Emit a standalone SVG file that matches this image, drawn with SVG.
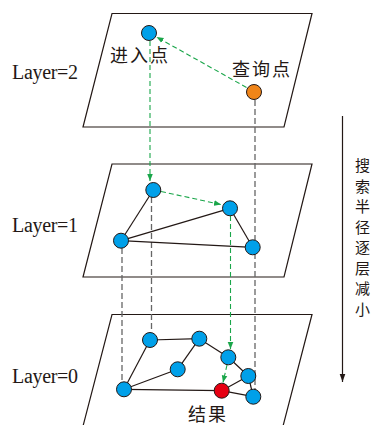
<svg xmlns="http://www.w3.org/2000/svg" width="376" height="425" viewBox="0 0 376 425">
<defs>
<style>
.plane{fill:#fff;stroke:#231815;stroke-width:1.2}
.edge{stroke:#231815;stroke-width:1.2;fill:none}
.gd{stroke:#666;stroke-width:1.3;stroke-dasharray:6 3;fill:none}
.gr{stroke:#1aa64a;stroke-width:1.1;stroke-dasharray:5 3;fill:none}
.n{stroke:#231815;stroke-width:1}
.blue{fill:#00a0e9}
.org{fill:#f08519}
.red{fill:#e60012}
.lab{font-family:"Liberation Serif",serif;font-size:20px;fill:#231815}
.cn{font-family:"Noto Sans CJK SC",sans-serif;font-size:18px;fill:#231815}
.vt{font-family:"Noto Sans CJK SC",sans-serif;font-size:15px;fill:#231815;text-anchor:middle}
</style>
<marker id="ga" viewBox="0 0 10 10" refX="10" refY="5" markerWidth="7" markerHeight="7" orient="auto" markerUnits="userSpaceOnUse">
<path d="M0,1 L10,5 L0,9 Z" fill="#1aa64a"/>
</marker>
<marker id="ka" viewBox="0 0 10 10" refX="10" refY="5" markerWidth="8" markerHeight="8" orient="auto" markerUnits="userSpaceOnUse">
<path d="M0,1.5 L10,5 L0,8.5 Z" fill="#231815"/>
</marker>
</defs>

<g id="planes">
<polygon class="plane" points="112,13.5 312,13.5 284,127 83,127"/>
<polygon class="plane" points="112,164 312,164 284,277 83,277"/>
<polygon class="plane" points="112,314.5 312,314.5 282,430 82,430"/>
</g>

<g id="labels">
<text class="lab" x="12" y="79" textLength="66">Layer=2</text>
<text class="lab" x="12" y="232" textLength="66">Layer=1</text>
<text class="lab" x="12" y="383" textLength="66">Layer=0</text>
<text class="cn" x="110" y="62" letter-spacing="2">进入点</text>
<text class="cn" x="232" y="76" letter-spacing="2">查询点</text>
<text class="cn" x="188" y="421" letter-spacing="2">结果</text>
</g>

<g id="connectors">
<line class="gd" x1="255" y1="100" x2="255" y2="389"/>
<line class="gd" x1="151.5" y1="197" x2="151.5" y2="332"/>
<line class="gd" x1="122" y1="248" x2="122" y2="381"/>
<line class="gr" x1="150" y1="41" x2="150" y2="181" marker-end="url(#ga)"/>
<line class="gr" x1="230.5" y1="216" x2="230.5" y2="349" marker-end="url(#ga)"/>
<line class="gr" x1="246.5" y1="87.5" x2="156.5" y2="37" marker-end="url(#ga)"/>
<line class="gr" x1="161" y1="191.5" x2="221" y2="204.5" marker-end="url(#ga)"/>
<line class="gr" x1="227" y1="365" x2="223" y2="382.5" marker-end="url(#ga)"/>
<line class="edge" x1="153.3" y1="190" x2="121" y2="240.7"/>
<line class="edge" x1="121" y1="240.7" x2="230" y2="208.3"/>
<line class="edge" x1="121" y1="240.7" x2="252.7" y2="247.3"/>
<line class="edge" x1="230" y1="208.3" x2="252.7" y2="247.3"/>
<line class="edge" x1="150" y1="340" x2="199.3" y2="338.7"/>
<line class="edge" x1="150" y1="340" x2="124" y2="389.3"/>
<line class="edge" x1="199.3" y1="338.7" x2="177.7" y2="369.3"/>
<line class="edge" x1="177.7" y1="369.3" x2="124" y2="389.3"/>
<line class="edge" x1="199.3" y1="338.7" x2="228.3" y2="357.3"/>
<line class="edge" x1="228.3" y1="357.3" x2="248.3" y2="376"/>
<line class="edge" x1="124" y1="389.3" x2="221.7" y2="390.7"/>
<line class="edge" x1="221.7" y1="390.7" x2="248.3" y2="376"/>
<line class="edge" x1="221.7" y1="390.7" x2="253.3" y2="396.7"/>
<line class="edge" x1="248.3" y1="376" x2="253.3" y2="396.7"/>
<line class="edge" x1="342.5" y1="116" x2="342.5" y2="382" marker-end="url(#ka)"/>
</g>

<g id="n-entry"><circle class="n blue" cx="149" cy="33" r="7.5"/></g>
<g id="n-query"><circle class="n org" cx="254" cy="92" r="7.5"/></g>
<g id="n-l1a"><circle class="n blue" cx="153.3" cy="190" r="7.5"/></g>
<g id="n-l1b"><circle class="n blue" cx="230" cy="208.3" r="7.5"/></g>
<g id="n-l1c"><circle class="n blue" cx="121" cy="240.7" r="7.5"/></g>
<g id="n-l1d"><circle class="n blue" cx="252.7" cy="247.3" r="7.5"/></g>
<g id="n-l0e"><circle class="n blue" cx="150" cy="340" r="7.5"/></g>
<g id="n-l0f"><circle class="n blue" cx="199.3" cy="338.7" r="7.5"/></g>
<g id="n-l0g"><circle class="n blue" cx="228.3" cy="357.3" r="7.5"/></g>
<g id="n-l0h"><circle class="n blue" cx="177.7" cy="369.3" r="7.5"/></g>
<g id="n-l0i"><circle class="n blue" cx="248.3" cy="376" r="7.5"/></g>
<g id="n-l0j"><circle class="n blue" cx="124" cy="389.3" r="7.5"/></g>
<g id="n-result"><circle class="n red" cx="221.7" cy="390.7" r="7.5"/></g>
<g id="n-l0k"><circle class="n blue" cx="253.3" cy="396.7" r="7.5"/></g>

<g id="side-label">
<text class="vt" x="362.5" y="171">搜</text>
<text class="vt" x="362.5" y="191.5">索</text>
<text class="vt" x="362.5" y="212">半</text>
<text class="vt" x="362.5" y="232.5">径</text>
<text class="vt" x="362.5" y="253">逐</text>
<text class="vt" x="362.5" y="273.5">层</text>
<text class="vt" x="362.5" y="294">减</text>
<text class="vt" x="362.5" y="314.5">小</text>
</g>
</svg>
